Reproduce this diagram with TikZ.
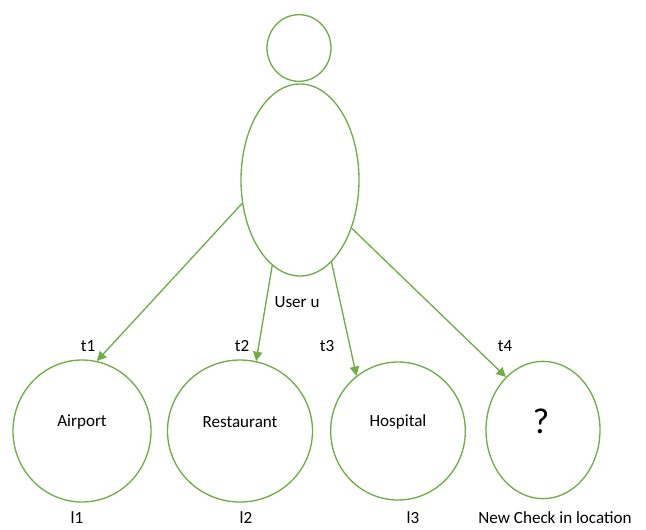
\documentclass[tikz,border=0pt]{standalone}
\usepackage{fontspec}
\setmainfont{Carlito}
\usetikzlibrary{shapes.geometric,arrows.meta}
\definecolor{ringgreen}{HTML}{70AD47}
\begin{document}
\begin{tikzpicture}[x=0.75pt,y=-0.75pt,
  ring/.style={draw=ringgreen, line width=1pt, ellipse, inner sep=0pt},
  link/.style={-{Triangle[length=7pt,width=7pt]}, draw=ringgreen, line width=1pt},
  every node/.style={font=\fontsize{12.8}{15}\selectfont}]
\useasboundingbox (0,0) rectangle (646,529);
% person
\node (head) [ring, minimum width=48pt, minimum height=50pt] at (299,48){};
\node (body) [ring, minimum width=88.5pt, minimum height=144pt] at (300,180){};
\node (user) at (297,302){User u};
% places
\node (airport) [ring, minimum width=103.5pt, minimum height=106.5pt] at (82,431){};
\node (restaurant) [ring, minimum width=108.75pt, minimum height=106.5pt] at (240,431){};
\node (hospital) [ring, minimum width=101pt, minimum height=103.5pt] at (398,431){};
\node (newloc) [ring, minimum width=85.5pt, minimum height=103pt] at (543,430){};
\node at (82,422){Airport};
\node at (240,422){Restaurant};
\node at (398,422){Hospital};
\node at (541,421){\fontsize{27}{30}\selectfont ?};
\node at (77,518){l1};
\node at (246,518){l2};
\node at (413,518){l3};
\node at (555,518){New Check in location};
% times
\node at (88,346){t1};
\node at (242,346){t2};
\node at (327,346){t3};
\node at (505,346){t4};
\draw[link] (body.202)--(airport.78);
\draw[link] (body.252)--(restaurant.77);
\draw[link] (body.291)--(hospital.127);
\draw[link] (body.317)--(newloc.125);
\end{tikzpicture}
\end{document}
